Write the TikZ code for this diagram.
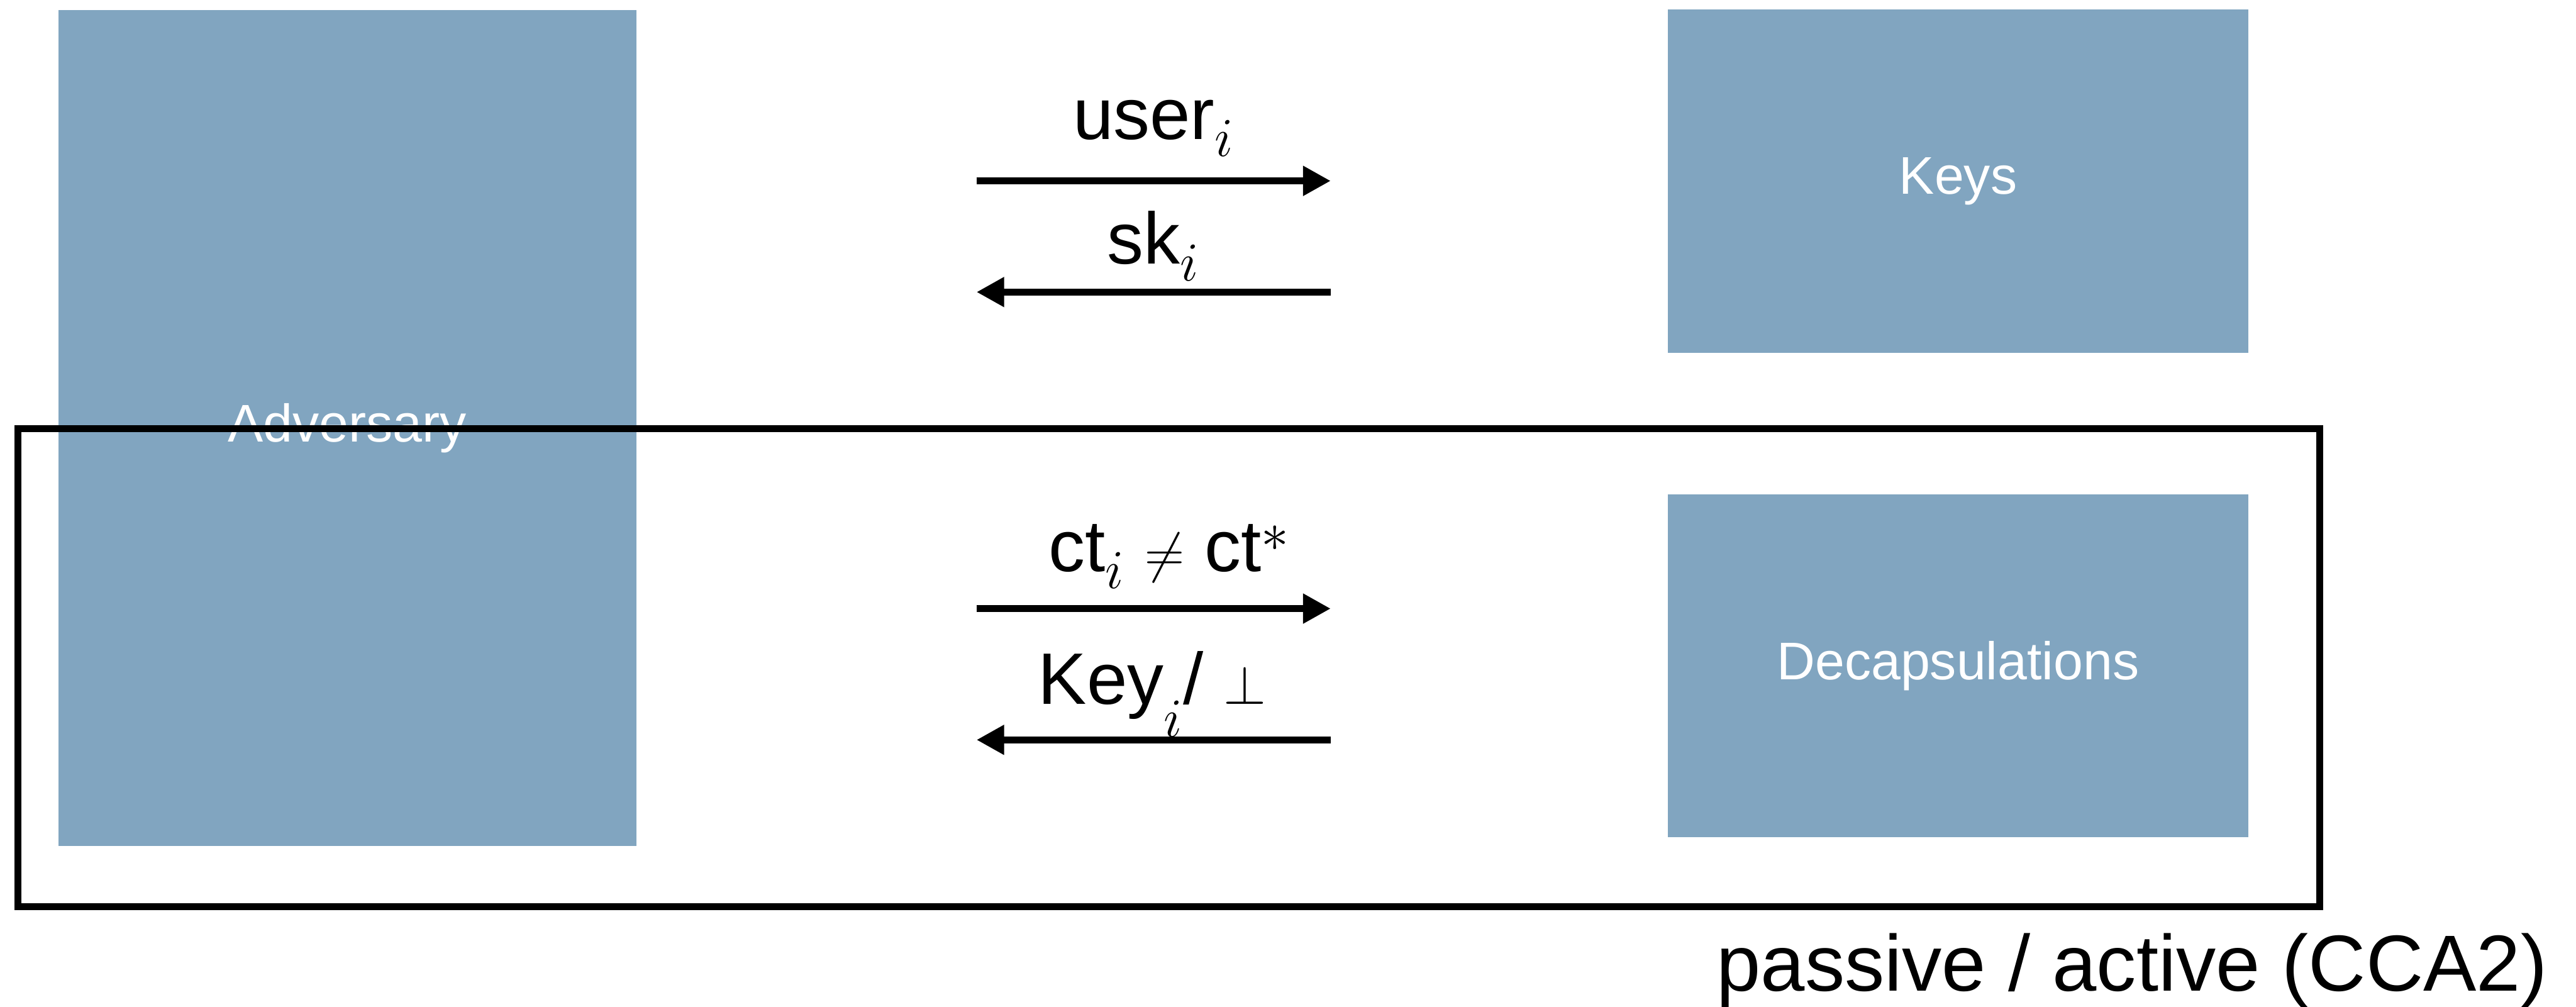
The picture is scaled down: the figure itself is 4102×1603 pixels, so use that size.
\documentclass[tikz,border=0pt]{standalone}
\usepackage{fontspec}
\setmainfont{Liberation Sans}
\setsansfont{Liberation Sans}
\usetikzlibrary{arrows.meta}
\DeclareMathSizes{33}{33}{25}{19}
\definecolor{boxblue}{RGB}{129,165,192}
\begin{document}
\begin{tikzpicture}[x=0.01cm,y=-0.01cm]
\tikzset{
 box/.style={fill=boxblue, draw=none, inner sep=0pt, text=white, font=\fontsize{24}{29}\selectfont},
 arr/.style={line width=0.11cm, -{Triangle[length=0.44cm,width=0.45cm]}},
 lbl/.style={font=\fontsize{33}{40}\selectfont, inner sep=0pt, anchor=base},
}
\useasboundingbox (0,0) rectangle (4102,1603);
\node[box, minimum width=9.2cm, minimum height=13.31cm] (adv) at (553,681.5) {Adversary};
\node[box, minimum width=9.23cm, minimum height=5.47cm] (keys) at (3118,288.5) {Keys};
\node[box, minimum width=9.23cm, minimum height=5.46cm] (dec) at (3118,1060) {Decapsulations};
\coordinate (a1) at (1555,288); \coordinate (b1) at (2119,288);
\coordinate (a2) at (1555,465); \coordinate (b2) at (2119,465);
\coordinate (a3) at (1555,969); \coordinate (b3) at (2119,969);
\coordinate (a4) at (1555,1178); \coordinate (b4) at (2119,1178);
\draw[arr] (a1) -- (b1);
\draw[arr] (b2) -- (a2);
\draw[arr] (a3) -- (b3);
\draw[arr] (b4) -- (a4);
\node[lbl] (l1) at (1837,222) {user$_i$};
\node[lbl] (l2) at (1837,420) {sk$_i$};
\node[lbl] (l3) at (1862,910) {ct$_i$ $\neq$ ct$^*$};
\node[lbl] (l4) at (1835,1121) {Key\raisebox{-7pt}{$_i$}/ $\bot$};
\node[draw, line width=0.11cm, minimum width=36.63cm, minimum height=7.6cm, inner sep=0pt] (frame) at (1861.5,1063) {};
\node[font=\fontsize{36}{43}\selectfont, anchor=base, inner sep=0pt] (cap) at (3395,1578) {passive / active (CCA2)};
\end{tikzpicture}
\end{document}
